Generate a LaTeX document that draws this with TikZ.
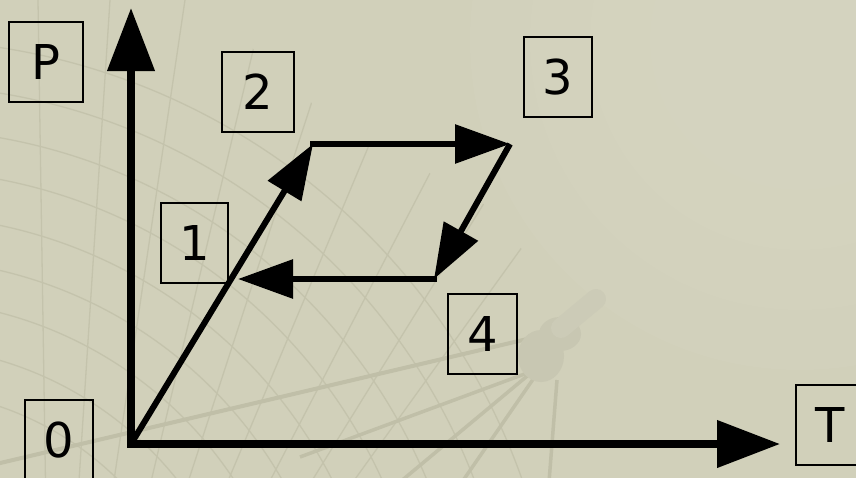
\documentclass[tikz,border=0pt]{standalone}
\usepackage{fontspec}
\setmainfont{DejaVu Sans}
\usetikzlibrary{arrows.meta,calc}
\definecolor{paper}{RGB}{209,208,186}
\definecolor{paperhi}{RGB}{215,214,194}
\definecolor{grid}{RGB}{196,195,172}
\definecolor{gridthick}{RGB}{192,191,168}
\definecolor{scope}{RGB}{200,199,178}
\definecolor{scopehi}{RGB}{204,203,183}
\tikzset{
  lbl/.style={draw=black, line width=1.6pt, minimum width=68pt, minimum height=80pt,
    inner sep=0pt, font=\fontsize{48}{48}\selectfont},
  axis/.style={line width=7.5pt, -{Triangle[length=63pt,width=46pt]}},
  cyc/.style={line width=6pt, -{Triangle[length=55pt,width=38pt]}},
  gridline/.style={draw=grid, line width=1.3pt},
}
\begin{document}
\begin{tikzpicture}[x=1pt,y=-1pt]
  \useasboundingbox (0,0) rectangle (856,477);
  % paper with a soft light patch in the upper right
  \fill[paper] (-6,-6) rectangle (862,483);
  \foreach \rr in {330,270,210,150,90}
    \fill[paperhi, opacity=0.25] (800,40) circle (\rr pt);
  % faint graticule texture
  \begin{scope}
    \clip (0,0) -- (200,0) -- (330,120) -- (480,200) -- (720,483) -- (-6,483) -- (-6,0) -- cycle;
    % parallels
    \foreach \r in {660,615,571,530,485,441,400,354,310}
      \draw[gridline] (-100,700) ++(-95:\r) arc[start angle=-95, end angle=-15, radius=\r];
    % meridians
    \foreach \xt in {38,110,185,265,345,430,520,610,700}
      \draw[gridline] (52,900) -- ($(52,900)!1.2!(\xt,0)$);
  \end{scope}
  % faint telescope on its tripod
  \draw[gridthick, line width=4pt] (-4,464) -- (540,336);
  \draw[gridthick, line width=3.5pt] (530,372) -- (300,457);
  \draw[gridthick, line width=3.5pt] (532,372) -- (400,482);
  \draw[gridthick, line width=3.5pt] (536,375) -- (462,482);
  \draw[gridthick, line width=3.5pt] (557,380) -- (549,482);
  \fill[scope] (541,356) ellipse (23pt and 26pt);
  \fill[scope] (560,334) ellipse (21pt and 17pt);
  \draw[scopehi, line width=20pt, line cap=round] (561,328) -- (596,299);

  % label boxes
  \node[lbl, minimum width=74pt] (lP) at (46,62) {P};
  \node[lbl, minimum width=72pt] (l2) at (258,92) {2};
  \node[lbl] (l3) at (558,77) {3};
  \node[lbl, minimum width=67pt] (l1) at (194.5,243) {1};
  \node[lbl] (l0) at (59,440) {0};
  \node[lbl, minimum width=69pt] (l4) at (482.5,334) {4};
  \node[lbl] (lT) at (830,425) {T};

  % axes
  \coordinate (O) at (131,444);
  \coordinate (Oy) at (131,447.75);
  \coordinate (Ox) at (127.25,444);
  \coordinate (Ptip) at (131,8);
  \coordinate (Ttip) at (780,444);
  \draw[axis] (Oy) -- (Ptip);
  \draw[axis] (Ox) -- (Ttip);

  % cycle corners
  \coordinate (A) at (313,144);
  \coordinate (B) at (510,144);
  \coordinate (C) at (434,279);
  \coordinate (D) at (238,279);
  \draw[cyc] (O) -- (A);
  \draw[cyc, shorten <=-3pt] (A) -- (B);
  \draw[cyc] (B) -- (C);
  \draw[cyc, shorten <=-3pt] (C) -- (D);
\end{tikzpicture}
\end{document}
